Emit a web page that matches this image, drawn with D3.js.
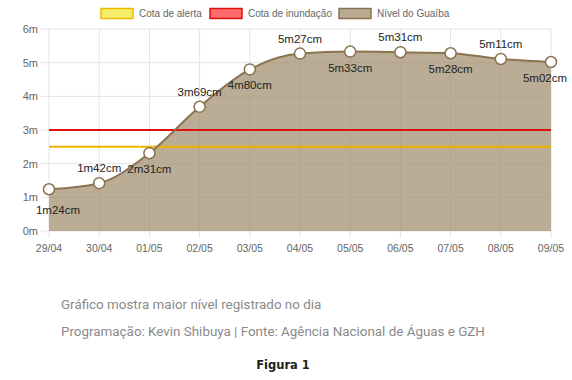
<!DOCTYPE html>
<html>
<head>
<meta charset="utf-8">
<script src="https://cdn.jsdelivr.net/npm/d3@7"></script>
<style>
body { margin: 0; background: #fff; }
svg text { font-family: "Liberation Sans", Arial, sans-serif; }
</style>
</head>
<body>
<script>
// dados do nível do Guaíba (maior nível do dia)
const days = ["29/04", "30/04", "01/05", "02/05", "03/05", "04/05", "05/05", "06/05", "07/05", "08/05", "09/05"];
const levels = [1.24, 1.42, 2.31, 3.69, 4.80, 5.27, 5.33, 5.31, 5.28, 5.11, 5.02];
const labels = ["1m24cm", "1m42cm", "2m31cm", "3m69cm", "4m80cm", "5m27cm", "5m33cm", "5m31cm", "5m28cm", "5m11cm", "5m02cm"];
const yTicks = [0, 1, 2, 3, 4, 5, 6];
const alertLevel = 2.5;
const floodLevel = 3;
const legendItems = ["Cota de alerta", "Cota de inundação", "Nível do Guaíba"];

const width = 572, height = 380;
const svg = d3.select("body").append("svg")
    .attr("width", width)
    .attr("height", height);

const x = d3.scalePoint().domain(days).range([49, 551]);
const y = d3.scaleLinear().domain([0, 6]).range([231, 29]);

// grid
const grid = svg.append("g");
grid.selectAll(".hg").data(yTicks).enter().append("line")
    .attr("x1", 41).attr("x2", 551)
    .attr("y1", d => y(d)).attr("y2", d => y(d))
    .attr("stroke", "#e4e4e4").attr("stroke-width", 1);
grid.selectAll(".vg").data(days).enter().append("line")
    .attr("x1", d => x(d)).attr("x2", d => x(d))
    .attr("y1", 29).attr("y2", 238)
    .attr("stroke", "#e4e4e4").attr("stroke-width", 1);

// y labels
svg.append("g").selectAll("text").data(yTicks).enter().append("text")
    .attr("x", 38).attr("y", d => y(d))
    .attr("dy", "0.35em")
    .attr("text-anchor", "end")
    .attr("font-size", 11)
    .attr("fill", "#666")
    .text(d => d + "m");

// x labels
svg.append("g").selectAll("text").data(days).enter().append("text")
    .attr("x", d => x(d)).attr("y", 248)
    .attr("dy", "0.35em")
    .attr("text-anchor", "middle")
    .attr("font-size", 10.5)
    .attr("fill", "#666")
    .text(d => d);

// area
const area = d3.area()
    .x((d, i) => x(days[i]))
    .y0(y(0))
    .y1(d => y(d))
    .curve(d3.curveMonotoneX);
const line = d3.line()
    .x((d, i) => x(days[i]))
    .y(d => y(d))
    .curve(d3.curveMonotoneX);

svg.append("path").datum(levels)
    .attr("d", area)
    .attr("fill", "#a08c6c")
    .attr("fill-opacity", 0.72);

// cotas
svg.append("line")
    .attr("x1", x(days[0])).attr("x2", x(days[days.length - 1]))
    .attr("y1", y(alertLevel)).attr("y2", y(alertLevel))
    .attr("stroke", "#f0b400").attr("stroke-width", 2);
svg.append("line")
    .attr("x1", x(days[0])).attr("x2", x(days[days.length - 1]))
    .attr("y1", y(floodLevel)).attr("y2", y(floodLevel))
    .attr("stroke", "#e01010").attr("stroke-width", 2);

svg.append("path").datum(levels)
    .attr("d", line)
    .attr("fill", "none")
    .attr("stroke", "#8b7350")
    .attr("stroke-width", 2);

// pontos
svg.append("g").selectAll("circle").data(levels).enter().append("circle")
    .attr("cx", (d, i) => x(days[i]))
    .attr("cy", d => y(d))
    .attr("r", 5.5)
    .attr("fill", "#fff")
    .attr("stroke", "#8b7350")
    .attr("stroke-width", 1.5);

// rótulos alternados acima/abaixo
svg.append("g").selectAll("text").data(levels).enter().append("text")
    .attr("x", (d, i) => Math.min(Math.max(x(days[i]), 58), 545))
    .attr("y", (d, i) => y(d) + (i === 0 ? 21 : (i % 2 ? -15 : 16)))
    .attr("dy", "0.35em")
    .attr("text-anchor", "middle")
    .attr("font-size", 11.5)
    .attr("fill", "#222")
    .text((d, i) => labels[i]);

// legenda
const legendColors = [["#f5ee6a", "#f0b800"], ["#ff6b6b", "#e01010"], ["#b9aa92", "#8b7350"]];
const legendX = [100, 209, 338];
const lg = svg.append("g");
legendItems.forEach((t, i) => {
    lg.append("rect")
        .attr("x", legendX[i] + 1).attr("y", 8.5)
        .attr("width", 32).attr("height", 10)
        .attr("fill", legendColors[i][0])
        .attr("stroke", legendColors[i][1])
        .attr("stroke-width", 1.5);
    lg.append("text")
        .attr("x", legendX[i] + 39).attr("y", 13.5)
        .attr("dy", "0.35em")
        .attr("font-size", 10)
        .attr("fill", "#666")
        .text(t);
});

// rodapé
svg.append("text")
    .attr("x", 61).attr("y", 304).attr("dy", "0.35em")
    .style("font-family", "Roboto, sans-serif")
    .attr("font-size", 13.4)
    .attr("fill", "#8a8a8a")
    .text("Gráfico mostra maior nível registrado no dia");
svg.append("text")
    .attr("x", 61).attr("y", 331).attr("dy", "0.35em")
    .style("font-family", "Roboto, sans-serif")
    .attr("font-size", 13.4)
    .attr("fill", "#8a8a8a")
    .text("Programação: Kevin Shibuya | Fonte: Agência Nacional de Águas e GZH");
svg.append("text")
    .attr("x", 283).attr("y", 365).attr("dy", "0.35em")
    .attr("text-anchor", "middle")
    .style("font-family", "'DejaVu Sans', Verdana, sans-serif")
    .attr("font-size", 11.5)
    .attr("font-weight", "bold")
    .attr("fill", "#222")
    .text("Figura 1");
</script>
</body>
</html>
